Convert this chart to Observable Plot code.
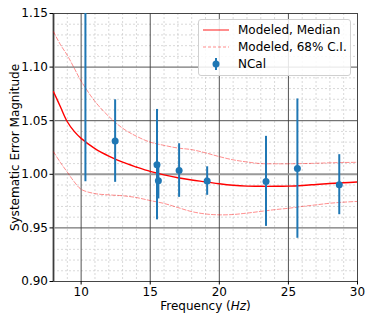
<!DOCTYPE html>
<html>
<head>
<meta charset="utf-8">
<script src="https://cdn.jsdelivr.net/npm/d3@7"></script>
<script src="https://cdn.jsdelivr.net/npm/@observablehq/plot@0.6"></script>
<style>
  html, body { margin: 0; padding: 0; background: #fff; }
  #wrap { position: relative; width: 374px; height: 321px; font-family: "DejaVu Sans", sans-serif; }
  #legend { position: absolute; left: 198px; top: 19px; width: 153px; height: 57px;
    border: 1px solid #d0d0d0; border-radius: 3px; background: rgba(255,255,255,0.85);
    font-size: 12px; color: #000; box-sizing: border-box; }
  .item { position: absolute; left: 4px; height: 16px; display: flex; align-items: center; }
  .item svg { width: 26px; height: 12px; margin-right: 9px; }
</style>
</head>
<body>
<div id="wrap"></div>
<script>
// Modeled curves
const curveFreq = [8, 8.5, 9, 9.5, 10, 11, 12, 13, 14, 15, 16, 17, 18, 19, 20, 21, 22, 23, 24, 25, 26, 27, 28, 29, 30];
const medianVals = [1.077, 1.063, 1.049, 1.040, 1.0335, 1.024, 1.017, 1.0113, 1.0068, 1.0027, 0.9995, 0.9968, 0.9947, 0.993, 0.9912, 0.9898, 0.989, 0.9888, 0.9888, 0.989, 0.9896, 0.9905, 0.9914, 0.9921, 0.9928];
const upperVals = [1.133, 1.121, 1.111, 1.099, 1.087, 1.068, 1.054, 1.043, 1.0355, 1.030, 1.027, 1.0245, 1.023, 1.020, 1.0165, 1.0135, 1.0115, 1.010, 1.0098, 1.0098, 1.010, 1.0103, 1.0107, 1.011, 1.0112];
const lowerVals = [1.021, 1.011, 1.002, 0.993, 0.986, 0.982, 0.9808, 0.9800, 0.9783, 0.9755, 0.9728, 0.969, 0.9652, 0.963, 0.9622, 0.9625, 0.9638, 0.9654, 0.967, 0.9683, 0.970, 0.9715, 0.973, 0.974, 0.9747];

// NCal measurements
const ncalFreq = [10.31, 12.46, 15.49, 15.59, 17.09, 19.12, 23.38, 25.65, 28.68];
const ncalVal = [1.175, 1.031, 1.009, 0.994, 1.0035, 0.9937, 0.9934, 1.0053, 0.9903];
const ncalErr = [0.182, 0.0385, 0.0515, 0.017, 0.025, 0.0133, 0.042, 0.065, 0.028];

// Ticks
const xTicks = [10, 15, 20, 25, 30];
const yTicks = [0.90, 0.95, 1.00, 1.05, 1.10, 1.15];

const curves = curveFreq.map((f, i) => ({f, med: medianVals[i], up: upperVals[i], lo: lowerVals[i]}));
const ncal = ncalFreq.map((f, i) => ({f, v: ncalVal[i], lo: ncalVal[i] - ncalErr[i], hi: ncalVal[i] + ncalErr[i]}));

const minorX = d3.range(9, 30).filter(v => v % 5 !== 0);
const minorY = d3.range(91, 115).filter(v => v % 5 !== 0).map(v => v / 100);
const majorX = [10, 15, 20, 25];
const majorY = [0.95, 1.05, 1.10];

const blue = "#1f77b4";

const chart = Plot.plot({
  width: 374,
  height: 321,
  marginLeft: 53,
  marginRight: 17,
  marginTop: 13,
  marginBottom: 40,
  style: {fontFamily: "DejaVu Sans, sans-serif", fontSize: "12px", color: "#000", background: "#fff"},
  x: {domain: [8, 30]},
  y: {domain: [0.90, 1.15]},
  marks: [
    Plot.ruleX(minorX, {stroke: "#c8c8c8", strokeWidth: 0.7, strokeDasharray: "2,2"}),
    Plot.ruleY(minorY, {stroke: "#c8c8c8", strokeWidth: 0.7, strokeDasharray: "2,2"}),
    Plot.ruleX(majorX, {stroke: "#404040", strokeWidth: 0.9}),
    Plot.ruleY(majorY, {stroke: "#404040", strokeWidth: 0.9}),
    Plot.ruleY([1.0], {stroke: "#999", strokeWidth: 2}),
    Plot.ruleX([8], {stroke: "#999", strokeWidth: 2.5}),
    Plot.frame({stroke: "#333", strokeWidth: 0.9}),
    Plot.line(curves, {x: "f", y: "up", stroke: "#ff0000", strokeOpacity: 0.45, strokeWidth: 1, strokeDasharray: "4,2", curve: "catmull-rom", clip: true}),
    Plot.line(curves, {x: "f", y: "lo", stroke: "#ff0000", strokeOpacity: 0.45, strokeWidth: 1, strokeDasharray: "4,2", curve: "catmull-rom", clip: true}),
    Plot.line(curves, {x: "f", y: "med", stroke: "#ff0000", strokeWidth: 1.4, curve: "catmull-rom", clip: true}),
    Plot.ruleX(ncal, {x: "f", y1: "lo", y2: "hi", stroke: blue, strokeWidth: 2, clip: true}),
    Plot.dot(ncal, {x: "f", y: "v", r: 3.5, fill: blue, stroke: "none", clip: true}),
    Plot.axisX({ticks: xTicks, tickSize: 3.5, tickPadding: 2, tickFormat: d => String(d), label: "Frequency (Hz)", labelAnchor: "center", labelArrow: "none", labelOffset: 28}),
    Plot.axisY({ticks: yTicks, tickSize: 3.5, tickPadding: 2, tickFormat: d3.format(".2f"), label: "Systematic Error Magnitude", labelAnchor: "center", labelArrow: "none", labelOffset: 43})
  ]
});

document.getElementById("wrap").appendChild(chart);

// italicize "Hz" in x label
d3.select(chart).selectAll("text").each(function() {
  if (this.textContent === "Frequency (Hz)") {
    const t = d3.select(this);
    t.text("");
    t.append("tspan").text("Frequency (");
    t.append("tspan").attr("font-style", "italic").text("Hz");
    t.append("tspan").text(")");
  }
});

// Legend
const legend = document.createElement("div");
legend.id = "legend";
legend.innerHTML = `
  <div class="item" style="top:2px"><svg viewBox="0 0 26 12"><line x1="0" y1="6" x2="26" y2="6" stroke="#ff0000" stroke-opacity="0.6" stroke-width="1.5"/></svg><span>Modeled, Median</span></div>
  <div class="item" style="top:19px"><svg viewBox="0 0 26 12"><line x1="0" y1="6" x2="26" y2="6" stroke="#ff0000" stroke-opacity="0.45" stroke-width="1" stroke-dasharray="3,2"/></svg><span>Modeled, 68% C.I.</span></div>
  <div class="item" style="top:36px"><svg viewBox="0 0 26 12"><line x1="13" y1="0" x2="13" y2="12" stroke="${blue}" stroke-width="2"/><circle cx="13" cy="6" r="3.5" fill="${blue}"/></svg><span>NCal</span></div>
`;
document.getElementById("wrap").appendChild(legend);
</script>
</body>
</html>
